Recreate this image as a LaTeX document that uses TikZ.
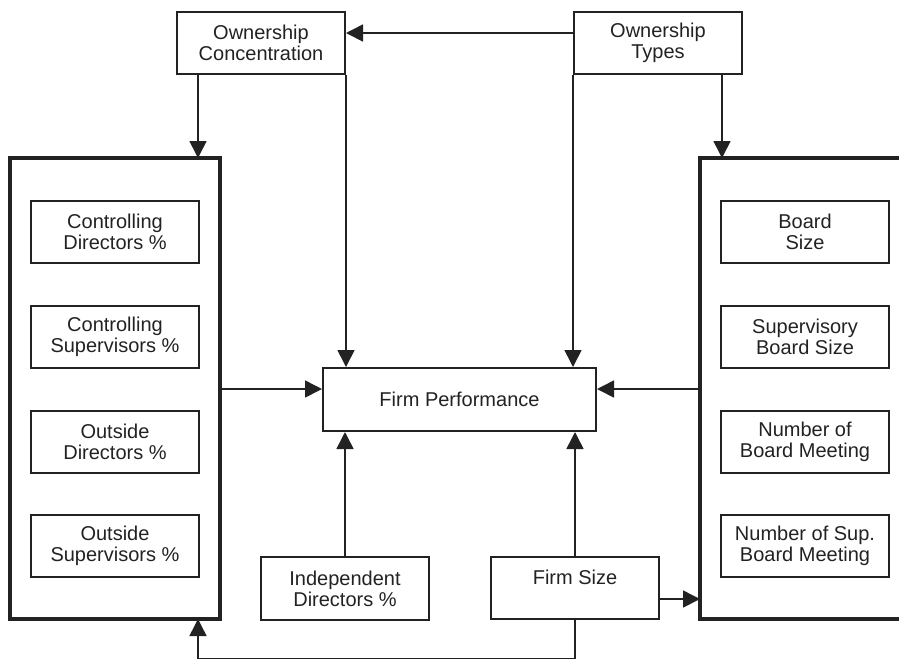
\documentclass[tikz,border=0pt]{standalone}
\usepackage{fontspec}
\setmainfont{Liberation Sans}
\usetikzlibrary{arrows.meta}
\definecolor{ink}{HTML}{222222}
\begin{document}
\begin{tikzpicture}[x=0.5pt,y=-0.5pt,
  every node/.style={font=\fontsize{10}{10.5}\selectfont, text=ink, align=center, inner sep=0pt},
  box/.style={draw=ink, line width=1pt, rectangle, minimum width=84pt, minimum height=31pt},
  bigbox/.style={draw=ink, line width=1.6pt},
  conn/.style={draw=ink, line width=0.8pt},
  arr/.style={conn, -{Triangle[length=8.5pt,width=8.5pt]}}]
\clip (0,0) rectangle (899,661);
% top boxes
\node[box] (oc) at (261,43) {Ownership\\Concentration};
\node[box] (ot) at (658,43) {Ownership\\Types};
% big boxes
\draw[bigbox] (10,158) rectangle (220,619);
\draw[bigbox] (700,158) rectangle (920,619);
\coordinate (lbT) at (198,158);
\coordinate (lbB) at (198,619);
\coordinate (rbT) at (722,158);
\coordinate (lbR) at (220,389);
\coordinate (rbL) at (700,389);
\coordinate (rbFS) at (700,599);
% inner left
\node[box] (cd) at (115,232) {Controlling\\Directors \%};
\node[box] (cs) at (115,337) {Controlling\\Supervisors \%};
\node[box] (od) at (115,441.5) {Outside\\Directors \%};
\node[box] (os) at (115,545.5) {Outside\\Supervisors \%};
% inner right
\node[box] (bs) at (805,232) {Board\\Size};
\node[box] (sbs) at (805,337) {Supervisory\\Board Size};
\node[box] (nbm) at (805,441.5) {Number of\\Board Meeting};
\node[box] (nsbm) at (805,545.5) {Number of Sup.\\Board Meeting};
% centre
\node[box, minimum width=136.5pt, minimum height=31.5pt] (fp) at (459.5,399.5) {Firm Performance};
\node[box, minimum width=84pt, minimum height=31.5pt] (id) at (345,588.5) {Independent\\Directors \%};
\node[box, minimum width=84pt, minimum height=31pt] (fs) at (575,588) {};
\node at (575,577) {Firm Size};
% connectors
\draw[arr] (ot.west |- 0,33) -- (oc.east |- 0,33);
\draw[arr] (oc.south -| lbT) -- (lbT);
\draw[arr] (oc.south east) -- (fp.north -| oc.south east);
\draw[arr] (ot.south west) -- (fp.north -| ot.south west);
\draw[arr] (ot.south -| rbT) -- (rbT);
\draw[arr] (lbR) -- (fp.west |- lbR);
\draw[arr] (rbL) -- (fp.east |- rbL);
\draw[arr] (id.north) -- (fp.south -| id.north);
\draw[arr] (fs.north) -- (fp.south -| fs.north);
\draw[arr] (fs.east |- rbFS) -- (rbFS);
\coordinate (b1) at (575,658.5);
\coordinate (b2) at (198,658.5);
\draw[arr] (fs.south) -- (b1) -- (b2) -- (lbB);
\end{tikzpicture}
\end{document}
